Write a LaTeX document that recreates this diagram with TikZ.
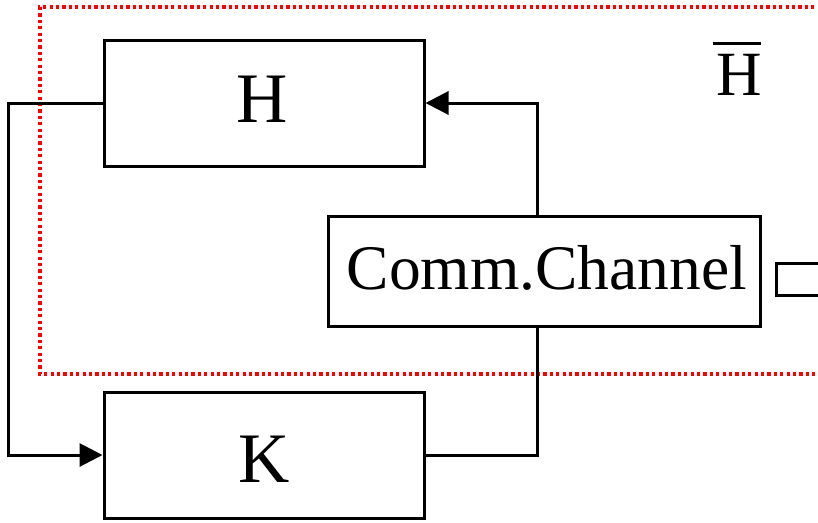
\documentclass[tikz,border=0pt]{standalone}
\usepackage{fontspec}
\setmainfont{Liberation Serif}
\usetikzlibrary{arrows.meta,calc}

\tikzset{
  block/.style={draw=black, line width=3pt, inner sep=0pt},
  wire/.style={draw=black, line width=3pt},
  arrowwire/.style={wire, -{Triangle[length=23pt,width=23pt]}},
  bigtxt/.style={anchor=base, inner sep=0pt, font=\fontsize{71}{80}\selectfont},
  midtxt/.style={anchor=base, inner sep=0pt, font=\fontsize{63.5}{72}\selectfont},
  boundary/.style={draw=red, line width=3.4pt, dash pattern=on 3.2pt off 3.2pt}
}

\begin{document}
\begin{tikzpicture}[x=1pt, y=-1pt]
  \clip (0,0) rectangle (818,522);

  % closed-loop boundary (dotted frame running off the right edge)
  \draw[boundary] (840,7) -- (40,7) -- (40,374) -- (840,374);

  % blocks
  \node[block, minimum width=320pt, minimum height=126pt] (H) at (264,103) {};
  \node[block, minimum width=320pt, minimum height=126pt] (K) at (264,455) {};
  \node[block, minimum width=432pt, minimum height=110pt] (C) at (544,271) {};
  \node[block, minimum width=60pt, minimum height=32pt] (side) at (806,279) {};

  % block captions
  \node[bigtxt] (Htxt) at (262,122) {H};
  \node[bigtxt] (Ktxt) at (264,482) {K};
  \node[midtxt] (Ctxt) at (547,289) {Comm.Channel};
  \node[midtxt, font=\fontsize{63}{70}\selectfont] (hb) at (739,95) {H};
  \draw[line width=3.4pt] ([xshift=-3pt,yshift=10pt]hb.north west) -- ([xshift=-1pt,yshift=10pt]hb.north east);

  % routing points
  \coordinate (cx) at (537,0);
  \coordinate (lx) at (8,0);

  % H -> K feedback on the left
  \draw[arrowwire] (H.west) -- (H.west -| lx) -- (K.west -| lx) -- (K.west);
  % K -> channel
  \draw[wire] (K.east) -- (K.east -| cx) -- (C.south -| cx);
  % channel -> H
  \draw[arrowwire] (C.north -| cx) -- (H.east -| cx) -- (H.east);
\end{tikzpicture}
\end{document}
